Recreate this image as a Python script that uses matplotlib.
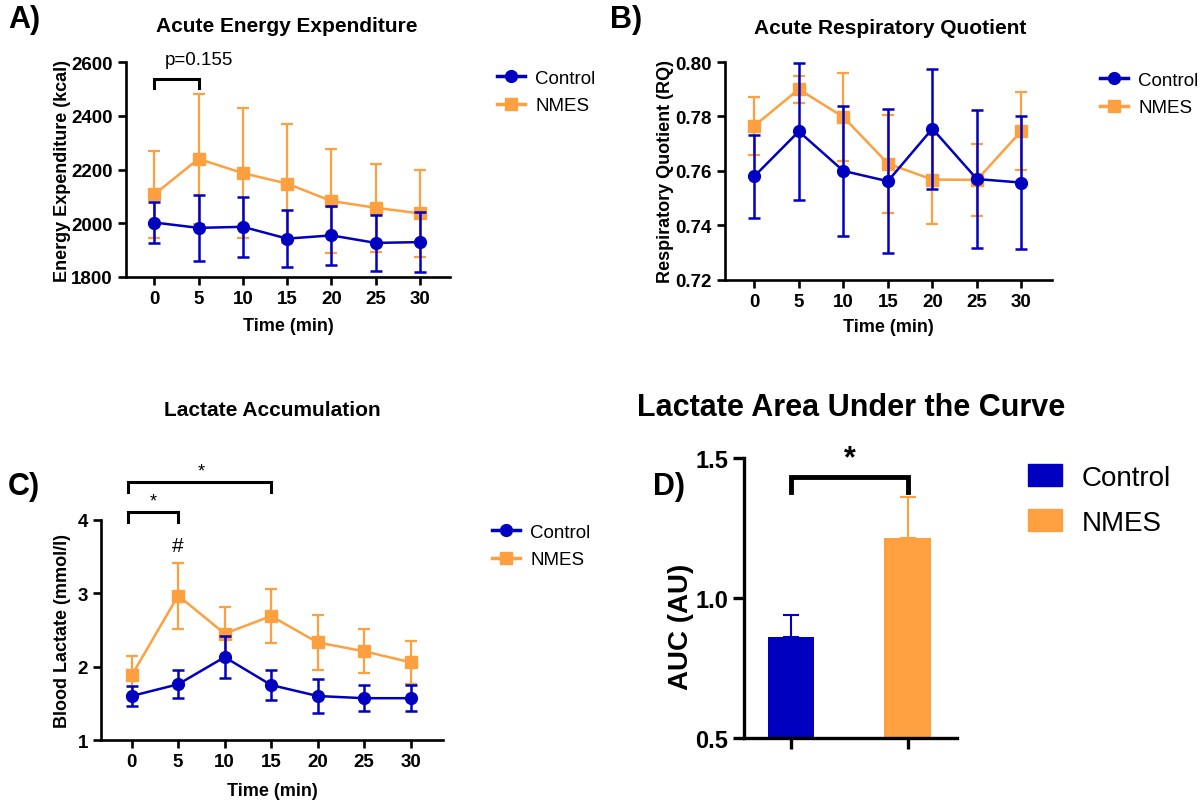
import numpy as np
import matplotlib.pyplot as plt
from matplotlib.lines import Line2D
from matplotlib.patches import Patch

plt.rcParams['font.family'] = ['Liberation Sans', 'DejaVu Sans']

BLUE = '#0000C0'
ORANGE = '#FFA040'

time = [0, 5, 10, 15, 20, 25, 30]

# A) energy expenditure (kcal)
ee_ctrl = [2003, 1983, 1987, 1943, 1955, 1927, 1930]
ee_ctrl_sd = [77, 122, 111, 107, 110, 105, 112]
ee_nmes = [2108, 2240, 2187, 2148, 2083, 2058, 2037]
ee_nmes_sd = [162, 242, 243, 222, 195, 164, 163]

# B) respiratory quotient
rq_ctrl = [0.758, 0.7745, 0.760, 0.7562, 0.7755, 0.757, 0.7557]
rq_ctrl_sd = [0.0153, 0.0253, 0.024, 0.0264, 0.022, 0.0252, 0.0245]
rq_nmes = [0.7765, 0.790, 0.7798, 0.7627, 0.7568, 0.7567, 0.7747]
rq_nmes_sd = [0.0105, 0.005, 0.016, 0.018, 0.0163, 0.0133, 0.0142]

# C) blood lactate (mmol/l)
lac_ctrl = [1.60, 1.76, 2.13, 1.75, 1.60, 1.57, 1.57]
lac_ctrl_sd = [0.14, 0.19, 0.29, 0.20, 0.23, 0.18, 0.18]
lac_nmes = [1.88, 2.97, 2.45, 2.69, 2.33, 2.21, 2.06]
lac_nmes_sd = [0.26, 0.45, 0.37, 0.37, 0.38, 0.30, 0.29]

# D) lactate AUC
groups = ['Control', 'NMES']
auc = [0.86, 1.216]
auc_sd = [0.08, 0.146]

fig = plt.figure(figsize=(12.01, 8.03), dpi=100)


def px(x, y):
    return x / 1201, 1 - y / 803


def style_axes(ax, fs=13.5, lw=1.9, tl=6):
    for s in ['top', 'right']:
        ax.spines[s].set_visible(False)
    for s in ['left', 'bottom']:
        ax.spines[s].set_linewidth(lw)
    ax.tick_params(width=lw, length=tl, labelsize=fs, direction='out')
    for lab in ax.get_xticklabels() + ax.get_yticklabels():
        lab.set_fontweight('bold')


def line_panel(ax, c, csd, n, nsd):
    ax.errorbar(time, n, yerr=nsd, color=ORANGE, marker='s', ms=8.5, lw=1.8,
                elinewidth=1.6, capsize=4.5, capthick=1.6, zorder=2)
    ax.errorbar(time, c, yerr=csd, color=BLUE, marker='o', ms=8.5, lw=1.8,
                elinewidth=1.8, capsize=4.5, capthick=1.8, zorder=3)
    ax.set_xticks(time)
    ax.set_xlabel('Time (min)', fontsize=13, fontweight='bold')


def line_legend(ax, x, y):
    handles = [Line2D([], [], color=BLUE, marker='o', ms=8.5, lw=2.5),
               Line2D([], [], color=ORANGE, marker='s', ms=8.5, lw=2.5)]
    ax.legend(handles, groups, loc='center left', bbox_to_anchor=px(x, y),
              bbox_transform=fig.transFigure, frameon=False, fontsize=13.5,
              handlelength=1.5, handletextpad=0.55, labelspacing=0.55,
              borderpad=0, borderaxespad=0)


def bracket(ax, x0, x1, ytop, ybot, lw=2.2):
    ax.plot([x0, x0, x1, x1], [ybot, ytop, ytop, ybot], color='black', lw=lw,
            clip_on=False, solid_joinstyle='miter')


# A
axA = fig.add_axes([0.1049, 0.6538, 0.2698, 0.2674])
line_panel(axA, ee_ctrl, ee_ctrl_sd, ee_nmes, ee_nmes_sd)
axA.set_xlim(-3.2, 33.4)
axA.set_ylim(1800, 2600)
axA.set_yticks([1800, 2000, 2200, 2400, 2600])
axA.set_ylabel('Energy Expenditure (kcal)', fontsize=13, fontweight='bold')
axA.yaxis.set_label_coords(-0.170, 0.5)
axA.xaxis.set_label_coords(0.5, -0.186)
style_axes(axA)
bracket(axA, 0, 5, 2538, 2503)
axA.text(5, 2580, 'p=0.155', ha='center', va='bottom', fontsize=13.5)
line_legend(axA, 497, 93)

# B
axB = fig.add_axes([0.6037, 0.6504, 0.2720, 0.2711])
line_panel(axB, rq_ctrl, rq_ctrl_sd, rq_nmes, rq_nmes_sd)
axB.set_xlim(-3.28, 33.4)
axB.set_ylim(0.72, 0.80)
axB.set_yticks([0.72, 0.74, 0.76, 0.78, 0.80])
axB.set_yticklabels(['0.72', '0.74', '0.76', '0.78', '0.80'])
axB.set_ylabel('Respiratory Quotient (RQ)', fontsize=13, fontweight='bold')
axB.yaxis.set_label_coords(-0.156, 0.5)
axB.xaxis.set_label_coords(0.5, -0.176)
style_axes(axB)
line_legend(axB, 1100, 95)

# C
axC = fig.add_axes([0.0841, 0.0772, 0.2848, 0.2740])
line_panel(axC, lac_ctrl, lac_ctrl_sd, lac_nmes, lac_nmes_sd)
axC.set_xlim(-3.3, 33.5)
axC.set_ylim(1, 4)
axC.set_yticks([1, 2, 3, 4])
axC.set_ylabel('Blood Lactate (mmol/l)', fontsize=13, fontweight='bold')
axC.yaxis.set_label_coords(-0.088, 0.5)
axC.xaxis.set_label_coords(0.5, -0.191)
style_axes(axC)
bracket(axC, -0.4, 15, 4.52, 4.38)
bracket(axC, -0.4, 5, 4.11, 3.97)
axC.text(7.5, 4.55, '*', ha='center', va='bottom', fontsize=13)
axC.text(2.3, 4.14, '*', ha='center', va='bottom', fontsize=13)
axC.text(5, 3.65, '#', ha='center', va='center', fontsize=15)
line_legend(axC, 492, 547)

# D
axD = fig.add_axes([0.6197, 0.0797, 0.1771, 0.3483])
xpos = np.arange(len(groups))
axD.bar(xpos, np.array(auc) - 0.5, bottom=0.5, width=0.4, color=[BLUE, ORANGE],
        zorder=2)
for i in xpos:
    axD.errorbar(xpos[i], auc[i], yerr=[[0], [auc_sd[i]]], color=[BLUE, ORANGE][i],
                 lw=0, elinewidth=1.5, capsize=6, capthick=1.5, zorder=1)
axD.set_xlim(-0.4, 1.42)
axD.set_ylim(0.5, 1.5)
axD.set_yticks([0.5, 1.0, 1.5])
axD.set_xticks(xpos)
axD.set_xticklabels(['', ''])
axD.set_ylabel('AUC (AU)', fontsize=20, fontweight='bold')
axD.yaxis.set_label_coords(-0.236, 0.40)
style_axes(axD, fs=17, lw=2.4, tl=8)
bracket(axD, 0, 1, 1.433, 1.38, lw=3.5)
axD.text(0.5, 1.50, '*', ha='center', va='center', fontsize=22, fontweight='bold')
axD.legend([Patch(color=BLUE), Patch(color=ORANGE)], groups, loc='center left',
           bbox_to_anchor=px(1028, 501), bbox_transform=fig.transFigure,
           frameon=False, fontsize=20, handlelength=1.22, handleheight=0.85,
           handletextpad=0.72, labelspacing=0.65, borderpad=0, borderaxespad=0)

# titles and panel letters
fig.text(*px(287, 27), 'Acute Energy Expenditure', ha='center', va='center',
         fontsize=15, fontweight='bold')
fig.text(*px(890, 29), 'Acute Respiratory Quotient', ha='center', va='center',
         fontsize=15, fontweight='bold')
fig.text(*px(272, 411), 'Lactate Accumulation', ha='center', va='center',
         fontsize=15, fontweight='bold')
fig.text(*px(851, 408), 'Lactate Area Under the Curve', ha='center', va='center',
         fontsize=22, fontweight='bold')
for lbl, x, y in [('A)', 8, 20), ('B)', 610, 20), ('C)', 8, 487), ('D)', 653, 487)]:
    fig.text(*px(x, y), lbl, ha='left', va='center', fontsize=22, fontweight='bold')

fig.savefig('out.png', dpi=100)
